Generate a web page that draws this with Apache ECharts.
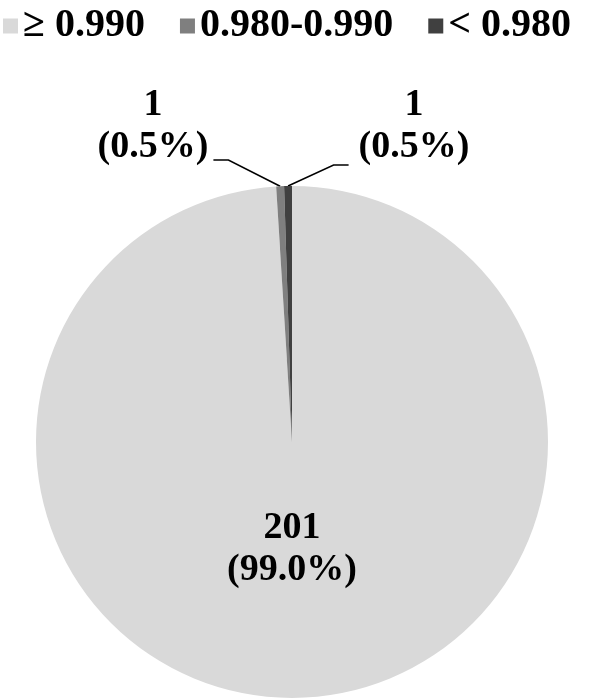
<!DOCTYPE html>
<html>
<head>
<meta charset="utf-8">
<script src="https://cdn.jsdelivr.net/npm/echarts@6/dist/echarts.min.js"></script>
<style>
  html, body { margin: 0; padding: 0; background: #fff; }
  #main { width: 590px; height: 699px; }
</style>
</head>
<body>
<div id="main"></div>
<script>
const categories = ['\u2265 0.990', '0.980-0.990', '< 0.980']
const counts = [201, 1, 1]
const percents = ['99.0%', '0.5%', '0.5%']
const COLORS = ['#d9d9d9', '#7f7f7f', '#404040']

const FONT = "'Liberation Serif', 'Times New Roman', serif"

// where the labels sit (x = centre of the text block)
const labelPos = [
  { x: 292, y: 549 },
  { x: 153, y: 126 },
  { x: 414, y: 126 },
]

const chart = echarts.init(document.getElementById('main'), null, { renderer: 'canvas' })

chart.setOption({
  backgroundColor: '#ffffff',
  animation: false,
  color: COLORS,
  legend: {
    top: 1,
    left: -2,
    itemWidth: 15,
    itemHeight: 15,
    itemGap: 35,
    icon: 'rect',
    textStyle: { fontFamily: FONT, fontWeight: 'bold', fontSize: 40, color: '#000' },
    data: categories,
  },
  series: [{
    type: 'pie',
    center: [292, 442],
    radius: 256,
    startAngle: 90,
    clockwise: true,
    avoidLabelOverlap: false,
    label: {
      show: true,
      position: 'outside',
      formatter: (p) => `${counts[p.dataIndex]}\n(${percents[p.dataIndex]})`,
      fontFamily: FONT,
      fontWeight: 'bold',
      fontSize: 38,
      lineHeight: 42,
      color: '#000',
      align: 'center',
    },
    labelLine: { show: true, smooth: false, lineStyle: { color: '#000', width: 1.5 } },
    labelLayout: (params) => {
      const pos = labelPos[params.dataIndex]
      const out = { x: pos.x, y: pos.y, align: 'center', verticalAlign: 'middle' }
      if (params.dataIndex > 0 && params.labelLinePoints) {
        const p0 = params.labelLinePoints[0]
        const halfW = params.labelRect.width / 2
        const left = params.dataIndex === 1
        const side = left ? 1 : -1
        const edge = pos.x + side * (halfW + (left ? 5 : 10))
        const ly = pos.y + (left ? 34 : 39)
        out.labelLinePoints = [p0, [edge + side * 15, ly], [edge, ly]]
      }
      return out
    },
    data: categories.map((name, i) => ({
      name,
      value: counts[i],
      itemStyle: { color: COLORS[i] },
      label: i === 0 ? { position: 'inside' } : undefined,
      labelLine: i === 0 ? { show: false } : undefined,
    })),
  }],
})
</script>
</body>
</html>
